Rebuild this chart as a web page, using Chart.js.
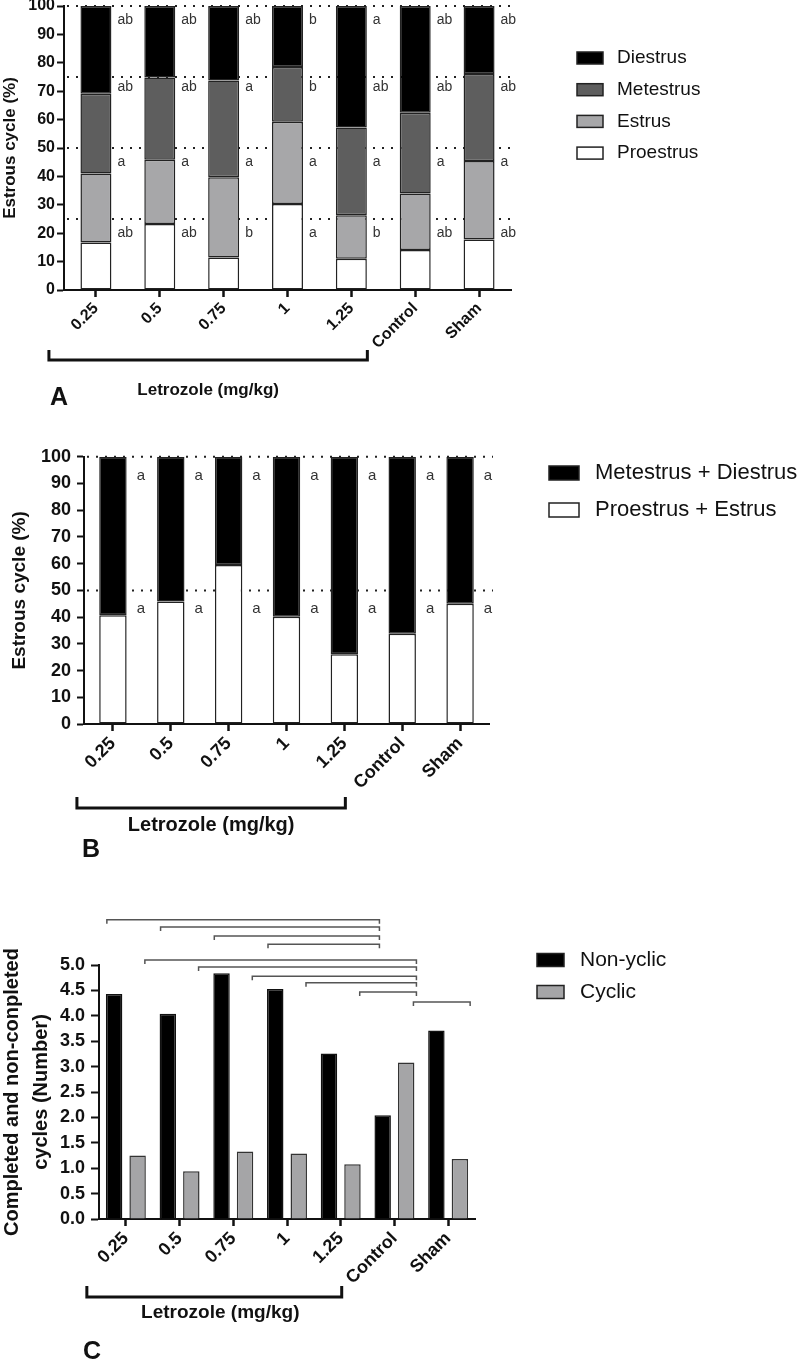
<!DOCTYPE html>
<html>
<head>
<meta charset="utf-8">
<title>Estrous cycle</title>
<script src="https://cdn.jsdelivr.net/npm/chart.js@4.4.1/dist/chart.umd.min.js"></script>
<style>
  html, body { margin: 0; padding: 0; background: #fff; }
  body { width: 800px; height: 1366px; position: relative; overflow: hidden; }
  canvas { position: absolute; left: 0; }
</style>
</head>
<body>
<canvas id="chart-a" width="800" height="426" style="top:-6px"></canvas>
<canvas id="chart-b" width="800" height="425" style="top:440px"></canvas>
<canvas id="chart-c" width="800" height="486" style="top:880px"></canvas>
<script>
var groups = ['0.25', '0.5', '0.75', '1', '1.25', 'Control', 'Sham'];
var groupLabel = 'Letrozole (mg/kg)';

// A - share of each phase (%), bottom to top
var proestrus = [16.7, 23.2, 11.4, 30.3, 11.0, 14.1, 17.8];
var estrus = [24.3, 22.7, 28.3, 28.9, 15.3, 19.9, 27.6];
var metestrus = [28.1, 28.9, 34.1, 19.3, 30.9, 28.4, 30.7];
var diestrus = [30.9, 25.2, 26.2, 21.5, 42.8, 37.6, 23.9];
// letters per bar, top row first (diestrus, metestrus, estrus, proestrus)
var lettersA = [
  ['ab', 'ab', 'a', 'ab'],
  ['ab', 'ab', 'a', 'ab'],
  ['ab', 'a', 'a', 'b'],
  ['b', 'b', 'a', 'a'],
  ['a', 'ab', 'a', 'b'],
  ['ab', 'ab', 'a', 'ab'],
  ['ab', 'ab', 'a', 'ab']
];
var letterLevelsA = [95, 71.5, 45, 20];
var guideLinesA = [25, 50, 75, 100];

// B - merged phases (%)
var proEstrus = [40.7, 45.8, 59.5, 40.1, 26.1, 33.8, 45.0];
var metDiestrus = [59.3, 54.2, 40.5, 59.9, 73.9, 66.2, 55.0];
var lettersB = [['a', 'a'], ['a', 'a'], ['a', 'a'], ['a', 'a'], ['a', 'a'], ['a', 'a'], ['a', 'a']];
var letterLevelsB = [93, 43];
var guideLinesB = [50, 100];

// C - number of cycles
var nonCyclic = [4.43, 4.04, 4.84, 4.53, 3.26, 2.04, 3.71];
var cyclic = [1.25, 0.94, 1.33, 1.29, 1.08, 3.08, 1.18];
// significance brackets: from group, to group, series (0 non-cyclic, 1 cyclic), height
var bracketFrom = [0, 1, 2, 3, 0, 1, 2, 3, 4, 5];
var bracketTo = [5, 5, 5, 5, 5, 5, 5, 5, 5, 6];
var bracketSeries = [0, 0, 0, 0, 1, 1, 1, 1, 1, 1];
var bracketLevel = [5.89, 5.75, 5.57, 5.41, 5.10, 4.96, 4.78, 4.65, 4.47, 4.27];

var family = '"Liberation Sans", Arial, Helvetica, sans-serif';
Chart.defaults.font.family = family;
Chart.defaults.color = '#111';
Chart.defaults.animation = false;

function drawDotted(chart, levels) {
  const { ctx, chartArea, scales } = chart;
  ctx.save();
  ctx.strokeStyle = '#222';
  ctx.lineWidth = 2;
  ctx.setLineDash([2, 7]);
  levels.forEach(v => {
    const y = scales.y.getPixelForValue(v);
    ctx.beginPath();
    ctx.moveTo(chartArea.left + 3, y);
    ctx.lineTo(chartArea.right + 4, y);
    ctx.stroke();
  });
  ctx.restore();
}

function drawLetters(chart, letters, levels, dx, size) {
  const { ctx, scales } = chart;
  const meta = chart.getDatasetMeta(0);
  ctx.save();
  ctx.font = size + 'px ' + family;
  ctx.fillStyle = '#333';
  ctx.textBaseline = 'middle';
  ctx.textAlign = 'left';
  meta.data.forEach((bar, i) => {
    const x = bar.x + bar.width / 2 + dx;
    letters[i].forEach((t, k) => ctx.fillText(t, x, scales.y.getPixelForValue(levels[k])));
  });
  ctx.restore();
}

function drawGroupBracket(chart, o) {
  const ctx = chart.ctx, xs = chart.scales.x;
  const x0 = xs.getPixelForValue(0) + o.dx0;
  const x1 = xs.getPixelForValue(4) + o.dx1;
  ctx.save();
  ctx.strokeStyle = '#111';
  ctx.lineWidth = 3;
  ctx.beginPath();
  ctx.moveTo(x0, o.y - o.tick);
  ctx.lineTo(x0, o.y);
  ctx.lineTo(x1, o.y);
  ctx.lineTo(x1, o.y - o.tick);
  ctx.stroke();
  ctx.fillStyle = '#111';
  ctx.font = 'bold ' + o.size + 'px ' + family;
  ctx.textAlign = 'center';
  ctx.textBaseline = 'middle';
  ctx.fillText(groupLabel, (x0 + x1) / 2 + o.labelDx, o.labelY);
  ctx.font = 'bold 25px ' + family;
  ctx.textAlign = 'left';
  ctx.fillText(o.letter, o.letterX, o.letterY);
  ctx.restore();
}

function drawLegend(chart, order, o) {
  const ctx = chart.ctx;
  ctx.save();
  ctx.font = o.size + 'px ' + family;
  ctx.textBaseline = 'middle';
  ctx.textAlign = 'left';
  order.forEach((idx, k) => {
    const ds = chart.data.datasets[idx];
    const y = o.y + k * o.gap;
    ctx.fillStyle = ds.backgroundColor;
    ctx.fillRect(o.x, y - o.h / 2, o.w, o.h);
    ctx.lineWidth = 1.5;
    ctx.strokeStyle = '#222';
    ctx.strokeRect(o.x, y - o.h / 2, o.w, o.h);
    ctx.fillStyle = '#111';
    ctx.fillText(ds.label, o.textX, y);
  });
  ctx.restore();
}

function drawSigBrackets(chart) {
  const ctx = chart.ctx, xs = chart.scales.x, ys = chart.scales.y;
  ctx.save();
  ctx.strokeStyle = '#555';
  ctx.lineWidth = 1.5;
  bracketFrom.forEach((f, k) => {
    const side = bracketSeries[k];
    const x0 = xs.getPixelForValue(f) + (side ? 19 : -19);
    const x1 = xs.getPixelForValue(bracketTo[k]) + (side ? 22 : -15);
    const y = ys.getPixelForValue(bracketLevel[k]);
    ctx.beginPath();
    ctx.moveTo(x0, y + 4);
    ctx.lineTo(x0, y);
    ctx.lineTo(x1, y);
    ctx.lineTo(x1, y + 4);
    ctx.stroke();
  });
  ctx.restore();
}

function xAxis(size, height, stacked) {
  return {
    stacked: stacked,
    ticks: { font: { size: size, weight: 'bold' }, color: '#111', maxRotation: 45, minRotation: 45, padding: 2 },
    grid: { display: true, drawOnChartArea: false, offset: false, tickLength: 7, tickWidth: 2.5, tickColor: '#111' },
    border: { display: true, color: '#111', width: 2 },
    afterFit: s => { s.height = height; }
  };
}

function yAxis(o) {
  return {
    stacked: o.stacked,
    min: 0,
    max: o.max,
    ticks: {
      stepSize: o.step,
      font: { size: o.size, weight: 'bold' },
      color: '#111',
      padding: o.pad,
      callback: o.fmt
    },
    grid: { display: true, drawOnChartArea: false, tickLength: o.tick, tickWidth: 2, tickColor: '#111' },
    border: { display: true, color: '#111', width: 2 },
    title: {
      display: true,
      text: o.title,
      color: '#111',
      font: { size: o.titleSize, weight: 'bold', lineHeight: o.titleLine },
      padding: { top: o.titlePad, bottom: 0 }
    },
    afterFit: s => { s.width = o.width; }
  };
}

function stackBar(label, values, color) {
  return {
    label: label,
    data: values,
    backgroundColor: color,
    borderColor: '#222',
    borderWidth: 1.5,
    borderSkipped: false
  };
}

// ---- A ----
new Chart(document.getElementById('chart-a'), {
  type: 'bar',
  data: {
    labels: groups,
    datasets: [
      stackBar('Proestrus', proestrus, '#ffffff'),
      stackBar('Estrus', estrus, '#a7a7a9'),
      stackBar('Metestrus', metestrus, '#5e5e5e'),
      stackBar('Diestrus', diestrus, '#000000')
    ].map(d => Object.assign(d, { barPercentage: 0.485, categoryPercentage: 1 }))
  },
  options: {
    responsive: false,
    layout: { padding: { left: 0, top: 12, right: 289, bottom: 0 } },
    plugins: { legend: { display: false }, tooltip: { enabled: false } },
    scales: {
      x: xAxis(16, 130, true),
      y: yAxis({ stacked: true, max: 100, step: 10, size: 16, pad: 2, tick: 7, width: 64,
        title: 'Estrous cycle (%)', titleSize: 17, titleLine: 1.2, titlePad: 0 })
    }
  },
  plugins: [{
    id: 'decorA',
    beforeDatasetsDraw: c => drawDotted(c, guideLinesA),
    afterDraw: c => {
      drawLetters(c, lettersA, letterLevelsA, 6, 14);
      drawLegend(c, [3, 2, 1, 0], { x: 577, y: 64, gap: 31.7, w: 26, h: 12, textX: 617, size: 19 });
      drawGroupBracket(c, { dx0: -47, dx1: 16, y: 366, tick: 10, size: 17, labelDx: 0, labelY: 396,
        letter: 'A', letterX: 50, letterY: 404 });
    }
  }]
});

// ---- B ----
new Chart(document.getElementById('chart-b'), {
  type: 'bar',
  data: {
    labels: groups,
    datasets: [
      stackBar('Proestrus + Estrus', proEstrus, '#ffffff'),
      stackBar('Metestrus + Diestrus', metDiestrus, '#000000')
    ].map(d => Object.assign(d, { barPercentage: 0.474, categoryPercentage: 1 }))
  },
  options: {
    responsive: false,
    layout: { padding: { left: 0, top: 15, right: 311, bottom: 0 } },
    plugins: { legend: { display: false }, tooltip: { enabled: false } },
    scales: {
      x: xAxis(18, 141, true),
      y: yAxis({ stacked: true, max: 100, step: 10, size: 18, pad: 6, tick: 7, width: 84,
        title: 'Estrous cycle (%)', titleSize: 19, titleLine: 1.2, titlePad: 8 })
    }
  },
  plugins: [{
    id: 'decorB',
    beforeDatasetsDraw: c => drawDotted(c, guideLinesB),
    afterDraw: c => {
      drawLetters(c, lettersB, letterLevelsB, 10, 15);
      drawLegend(c, [1, 0], { x: 549, y: 33, gap: 37, w: 30, h: 14, textX: 595, size: 22 });
      drawGroupBracket(c, { dx0: -36, dx1: 1, y: 368, tick: 11, size: 20, labelDx: 0, labelY: 385,
        letter: 'B', letterX: 82, letterY: 410 });
    }
  }]
});

// ---- C ----
new Chart(document.getElementById('chart-c'), {
  type: 'bar',
  data: {
    labels: groups,
    datasets: [
      { label: 'Non-yclic', data: nonCyclic, backgroundColor: '#000000', borderColor: '#111', borderWidth: 1.5,
        barPercentage: 0.7, categoryPercentage: 0.875 },
      { label: 'Cyclic', data: cyclic, backgroundColor: '#a5a5a7', borderColor: '#333', borderWidth: 1.5,
        barPercentage: 0.7, categoryPercentage: 0.875 }
    ]
  },
  options: {
    responsive: false,
    layout: { padding: { left: 0, top: 85, right: 325, bottom: 0 } },
    plugins: { legend: { display: false }, tooltip: { enabled: false } },
    scales: {
      x: xAxis(18, 147, false),
      y: yAxis({ stacked: false, max: 5, step: 0.5, size: 18, pad: 6, tick: 8, width: 99,
        fmt: v => v.toFixed(1),
        title: ['Completed and non-conpleted', 'cycles (Number)'], titleSize: 20, titleLine: 1.45, titlePad: -2 })
    }
  },
  plugins: [{
    id: 'decorC',
    afterDraw: c => {
      drawSigBrackets(c);
      drawLegend(c, [0, 1], { x: 537, y: 80, gap: 32, w: 27, h: 13, textX: 580, size: 21 });
      drawGroupBracket(c, { dx0: -39, dx1: 1, y: 417, tick: 11, size: 19, labelDx: 6, labelY: 433,
        letter: 'C', letterX: 83, letterY: 472 });
    }
  }]
});
</script>
</body>
</html>
